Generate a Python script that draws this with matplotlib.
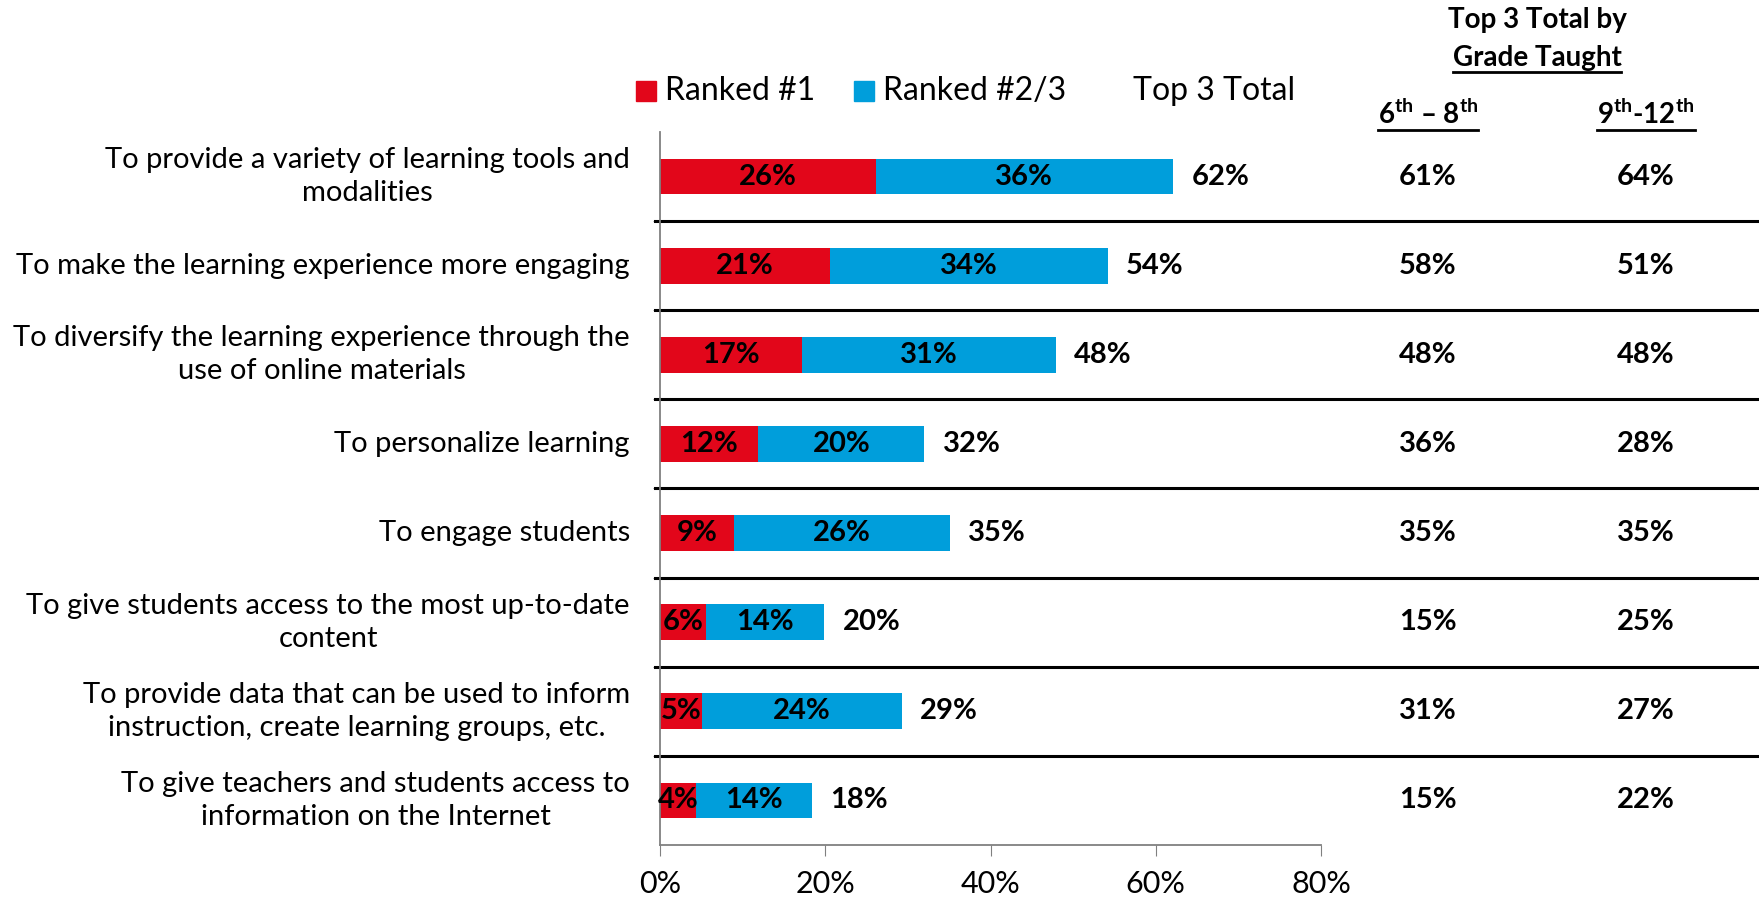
import numpy as np
import matplotlib
matplotlib.use('Agg')
import matplotlib.pyplot as plt
from matplotlib.lines import Line2D
import matplotlib.transforms as mtransforms

FONT = 'Lato'
plt.rcParams['font.family'] = [FONT, 'DejaVu Sans']
plt.rcParams['mathtext.fontset'] = 'custom'
plt.rcParams['mathtext.rm'] = FONT
plt.rcParams['mathtext.bf'] = FONT + ':bold'

categories = [
    'To provide a variety of learning tools and\nmodalities',
    'To make the learning experience more engaging',
    'To diversify the learning experience through the\nuse of online materials',
    'To personalize learning',
    'To engage students',
    'To give students access to the most up-to-date\ncontent',
    'To provide data that can be used to inform\ninstruction, create learning groups, etc.',
    'To give teachers and students access to\ninformation on the Internet',
]
ranked1 = [26.1, 20.6, 17.2, 11.9, 9.0, 5.6, 5.1, 4.4]
ranked23 = [36.0, 33.6, 30.7, 20.1, 26.1, 14.3, 24.2, 14.0]
grade_6_8 = [61, 58, 48, 36, 35, 15, 31, 15]
grade_9_12 = [64, 51, 48, 28, 35, 25, 27, 22]
xticks = [0, 20, 40, 60, 80]

RED = '#E2061A'
BLUE = '#009EDB'
W, H = 1759, 901

fig = plt.figure(figsize=(W / 100, H / 100), dpi=100)
ax = fig.add_axes([660 / W, 1 - 845 / H, (1321 - 660) / W, (845 - 132) / H])

y = np.arange(len(categories))
r1 = np.array(ranked1)
r2 = np.array(ranked23)
tot = r1 + r2
ax.barh(y, r1, height=0.4, color=RED)
ax.barh(y, r2, left=r1, height=0.4, color=BLUE)

ax.set_xlim(0, 80)
ax.set_ylim(len(categories) - 0.5, -0.5)
ax.set_xticks(xticks)
ax.set_xticklabels([f'{t}%' for t in xticks], fontsize=22)
ax.set_yticks([])
ax.set_yticks(np.arange(len(categories) - 1) + 0.5, minor=True)
ax.tick_params(axis='y', which='minor', length=5, color='#808080')
ax.tick_params(axis='x', length=8, color='#808080', pad=10)
for s in ['top', 'right']:
    ax.spines[s].set_visible(False)
for s in ['left', 'bottom']:
    ax.spines[s].set_color('#808080')
    ax.spines[s].set_linewidth(1.3)

lbl = dict(ha='center', va='center', fontsize=21, fontweight='bold', color='black')
for i in range(len(categories)):
    ax.text(r1[i] / 2, i, f'{round(r1[i])}%', **lbl)
    ax.text(r1[i] + r2[i] / 2, i, f'{round(r2[i])}%', **lbl)
    ax.text(tot[i] + 2.2, i, f'{round(tot[i])}%', ha='left', va='center',
            fontsize=21, fontweight='bold')
    ax.text(-30 / 8.26, i, categories[i], ha='right', va='center',
            multialignment='center', fontsize=21, linespacing=1.35)

# grade columns
trans = mtransforms.blended_transform_factory(fig.transFigure, ax.transData)
for i in range(len(categories)):
    ax.text(1428 / W, i, f'{grade_6_8[i]}%', transform=trans, ha='center',
            va='center', fontsize=21, fontweight='bold')
    ax.text(1646 / W, i, f'{grade_9_12[i]}%', transform=trans, ha='center',
            va='center', fontsize=21, fontweight='bold')

# separator lines
for b in np.arange(len(categories) - 1) + 0.5:
    ax.add_line(Line2D([655 / W, 1], [b, b], transform=trans, color='black',
                       lw=2.2, clip_on=False))

# legend
fy = 1 - 91 / H
fig.patches.append(plt.Rectangle((636 / W, fy - 10 / H), 20 / W, 20 / H,
                                 transform=fig.transFigure, color=RED))
fig.text(665 / W, fy, 'Ranked #1', ha='left', va='center', fontsize=23)
fig.patches.append(plt.Rectangle((854 / W, fy - 10 / H), 20 / W, 20 / H,
                                 transform=fig.transFigure, color=BLUE))
fig.text(883 / W, fy, 'Ranked #2/3', ha='left', va='center', fontsize=23)
fig.text(1133 / W, fy, 'Top 3 Total', ha='left', va='center', fontsize=23)

# headers
fig.text(1537 / W, 1 - 20 / H, 'Top 3 Total by', ha='center', va='center',
         fontsize=20, fontweight='bold')
h2 = fig.text(1537 / W, 1 - 58 / H, 'Grade Taught', ha='center', va='center',
              fontsize=20, fontweight='bold')
h3 = fig.text(1428 / W, 1 - 114 / H, r'6$^{\mathbf{th}}$ – 8$^{\mathbf{th}}$',
              ha='center', va='center', fontsize=20, fontweight='bold')
h4 = fig.text(1646 / W, 1 - 114 / H, r'9$^{\mathbf{th}}$-12$^{\mathbf{th}}$',
              ha='center', va='center', fontsize=20, fontweight='bold')

fig.canvas.draw()
r = fig.canvas.get_renderer()
for t in [h2, h3, h4]:
    bb = t.get_window_extent(r)
    yy = bb.y0 - 1
    fig.add_artist(Line2D([bb.x0 / W, bb.x1 / W], [yy / H, yy / H],
                          transform=fig.transFigure, color='black', lw=2))

fig.savefig('out.png', dpi=100, facecolor='white')
